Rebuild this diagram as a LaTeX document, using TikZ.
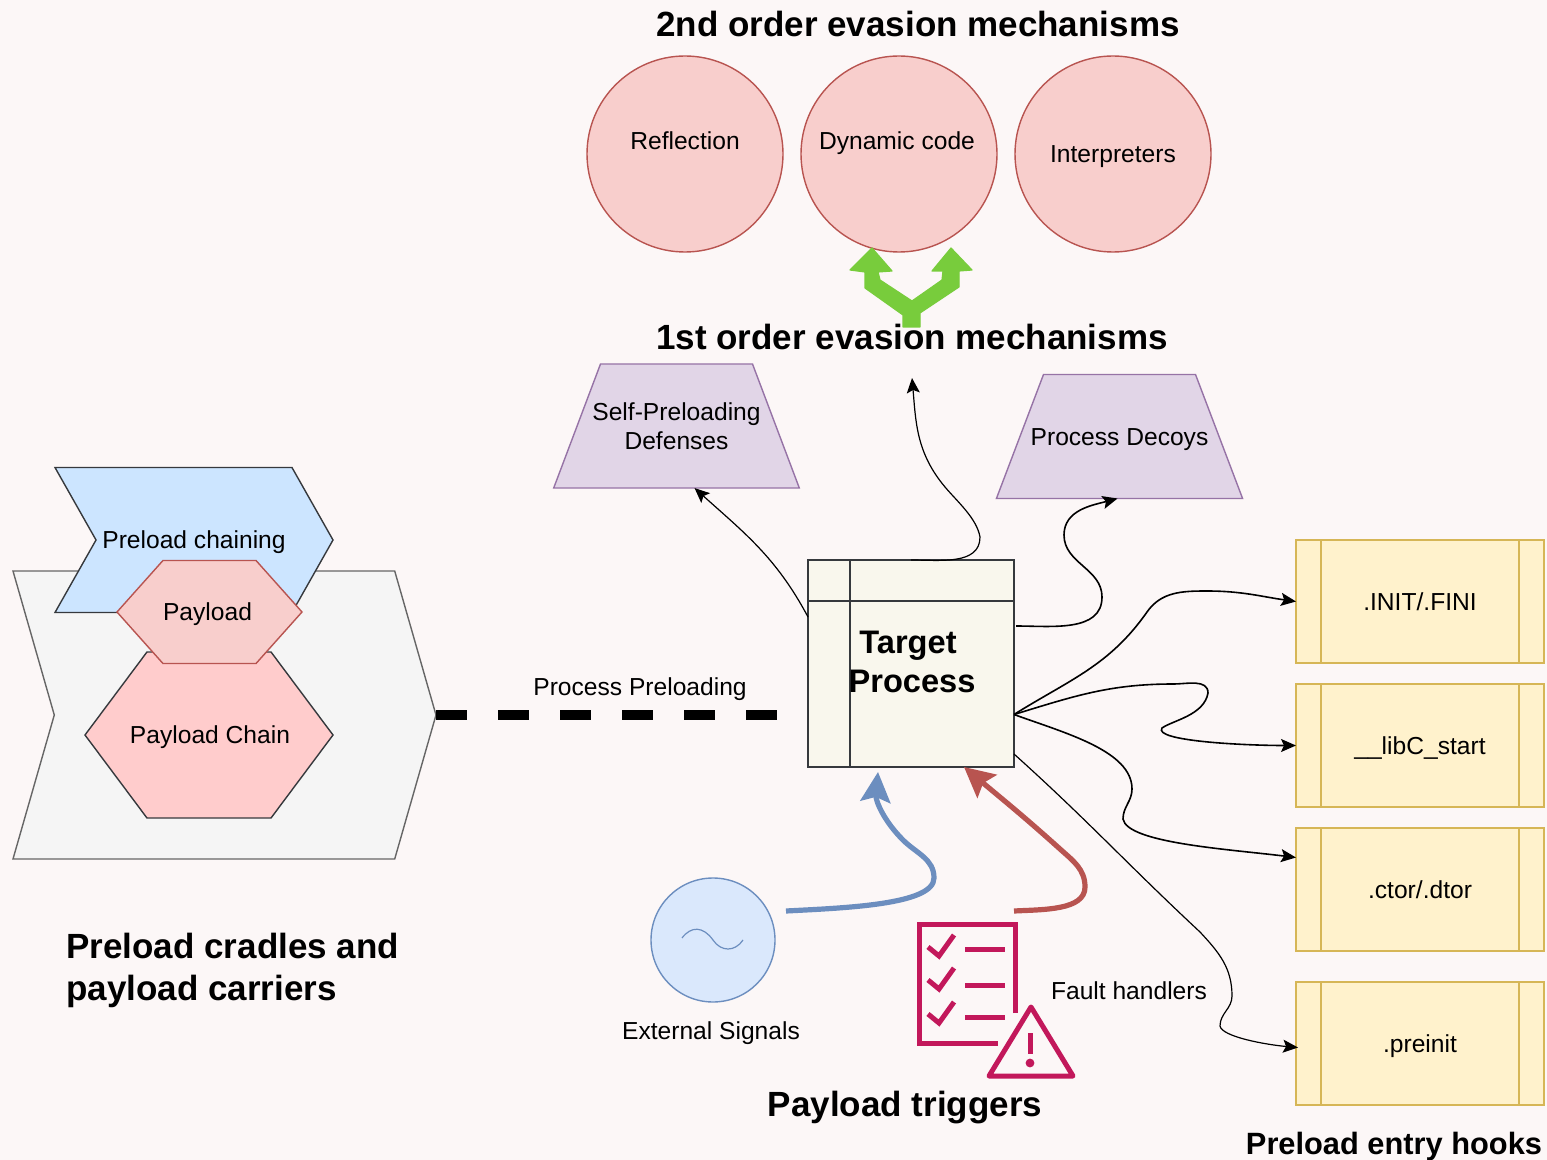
\documentclass[tikz,border=0pt]{standalone}
\usepackage{fontspec}
\setmainfont{Liberation Sans}
\usepackage{tikz}
\usetikzlibrary{calc, shapes, arrows.meta}

\definecolor{paper}{HTML}{FCF7F7}
\definecolor{redfill}{HTML}{F8CECC}
\definecolor{redline}{HTML}{B85450}
\definecolor{mauvefill}{HTML}{E1D5E7}
\definecolor{mauveline}{HTML}{9673A6}
\definecolor{sandfill}{HTML}{FFF2CC}
\definecolor{sandline}{HTML}{D6B656}
\definecolor{bluefill}{HTML}{DAE8FC}
\definecolor{blueline}{HTML}{6C8EBF}
\definecolor{skyfill}{HTML}{CCE5FF}
\definecolor{pinkfill}{HTML}{FFCCCC}
\definecolor{slate}{HTML}{36393D}
\definecolor{greyfill}{HTML}{F5F5F5}
\definecolor{greyline}{HTML}{666666}
\definecolor{creamfill}{HTML}{F9F7ED}
\definecolor{crimson}{HTML}{C2185B}
\definecolor{leaf}{HTML}{78CC3C}

\begin{document}
\begin{tikzpicture}[x=0.5pt, y=-0.5pt, >={Stealth[length=7.5pt, width=6.5pt, inset=1.5pt]}]

    \tikzstyle{lbl}=[font=\fontsize{12.3}{14.6}\selectfont, text=black, inner sep=0pt, text height=8.8pt, text depth=0pt];
    \tikzstyle{heading}=[font=\fontsize{17.5}{21}\selectfont\bfseries, text=black, inner sep=0pt];
    \tikzstyle{bubble}=[circle, draw=redline, fill=redfill, line width=0.7pt, minimum size=98pt, inner sep=0pt, outer sep=0pt];
    \tikzstyle{defense}=[trapezium, trapezium stretches=true, draw=mauveline, fill=mauvefill, line width=0.7pt, minimum height=62pt, inner sep=0pt, outer sep=0pt, lbl, align=center];
    \tikzstyle{hook}=[rectangle, draw=sandline, fill=sandfill, line width=0.7pt, minimum width=124pt, minimum height=61.5pt, inner sep=0pt, outer sep=0pt, lbl];
    \tikzstyle{hookbar}=[draw=sandline, line width=0.7pt];
    \tikzstyle{wire}=[->, thick, black];
    \tikzstyle{trigger}=[line width=2.6pt, >={Stealth[length=15pt, width=15pt, inset=2.5pt]}];
    \tikzstyle{icon}=[draw=crimson, line width=2.5pt];

    \useasboundingbox (0,0) rectangle (1547,1160);
    \fill[paper] (0,0) rectangle (1547,1160);

    % carriers on the left
    \node[signal, signal from=west, signal to=east, signal pointer angle=148, draw=greyline, fill=greyfill, line width=0.7pt, minimum width=211.5pt, minimum height=144pt, inner sep=0pt, outer sep=0pt] (cradle) at (224.5,715) {};
    \node[signal, signal to=west and east, signal pointer angle=106.5, draw=slate, fill=pinkfill, line width=0.7pt, minimum width=124pt, minimum height=83pt, inner sep=0pt, outer sep=0pt, label={[lbl, xshift=0.5pt]center:Payload Chain}] (chain) at (209,735) {};
    \node[signal, signal from=west, signal to=east, signal pointer angle=121, draw=slate, fill=skyfill, line width=0.7pt, minimum width=139pt, minimum height=72.5pt, inner sep=0pt, outer sep=0pt, lbl] (chaining) at (194,540) {Preload chaining};
    \node[signal, signal to=west and east, signal pointer angle=96.5, draw=redline, fill=redfill, line width=0.7pt, minimum width=92.5pt, minimum height=51.5pt, inner sep=0pt, outer sep=0pt, lbl] (payload) at (209.5,612) {Payload\hspace*{2pt}};
    \node[heading, align=left, anchor=north west] (cradles) at (66,933) {Preload cradles and\\payload carriers};

    % 2nd order
    \node[heading] (second) at (918,24) {2nd order evasion mechanisms};
    \node[bubble, label={[lbl, yshift=6.5pt]center:Reflection}] (reflection) at (685,154) {};
    \node[bubble, label={[lbl, yshift=6.5pt, xshift=-1pt]center:Dynamic code}] (dynamic) at ($(reflection)+(214,0)$) {};
    \node[bubble, lbl] (interp) at ($(dynamic)+(214,0)$) {Interpreters};

    \draw[fill=leaf, draw=leaf, line width=0.6pt, line join=round] (903,327) -- (903,315) -- (865,288) -- (865,272) -- (850,270) -- (872,248) -- (892,271) -- (878,272) -- (880,280) -- (912,301) -- (942,280) -- (943,271) -- (932,271) -- (951,248) -- (972,270) -- (959,271) -- (959,287) -- (920,313) -- (920,327) -- cycle;

    % 1st order
    \node[heading] (first) at (912,337) {1st order evasion mechanisms};
    \node[defense, text height=23.4pt, trapezium left angle=45, trapezium right angle=45] (self) at (676.5,426) {\makebox[76pt]{Self-Preloading}\\\makebox[76pt]{Defenses}};
    \node[defense, trapezium left angle=20.5, trapezium right angle=20.5] (decoys) at (1119.5,436.5) {\makebox[76pt]{Process Decoys}};

    % target
    \node[rectangle, draw=slate, fill=creamfill, line width=0.7pt, minimum width=103pt, minimum height=103.5pt, inner sep=0pt, outer sep=0pt] (target) at (911,663.5) {};
    \draw[slate, line width=0.7pt] ($(target.north west)+(0,41)$) -- ($(target.north east)+(0,41)$);
    \draw[slate, line width=0.7pt] ($(target.north west)+(42,0)$) -- ($(target.south west)+(42,0)$);
    \node[align=center, inner sep=0pt, font=\fontsize{16.3}{19.5}\selectfont\bfseries] (targettxt) at (912,662) {Target\hspace*{4pt}\\Process};

    % hooks
    \node[hook] (init) at (1420,601.5) {.INIT/.FINI};
    \node[hook] (libc) at ($(init)+(0,144)$) {\_\_libC\_start};
    \node[hook] (ctor) at ($(libc)+(0,144)$) {.ctor/.dtor};
    \node[hook] (preinit) at ($(ctor)+(0,154)$) {.preinit};
    \draw[hookbar] ($(init.north west)+(25,0)$) -- ($(init.south west)+(25,0)$);
    \draw[hookbar] ($(init.north east)+(-25,0)$) -- ($(init.south east)+(-25,0)$);
    \draw[hookbar] ($(libc.north west)+(25,0)$) -- ($(libc.south west)+(25,0)$);
    \draw[hookbar] ($(libc.north east)+(-25,0)$) -- ($(libc.south east)+(-25,0)$);
    \draw[hookbar] ($(ctor.north west)+(25,0)$) -- ($(ctor.south west)+(25,0)$);
    \draw[hookbar] ($(ctor.north east)+(-25,0)$) -- ($(ctor.south east)+(-25,0)$);
    \draw[hookbar] ($(preinit.north west)+(25,0)$) -- ($(preinit.south west)+(25,0)$);
    \draw[hookbar] ($(preinit.north east)+(-25,0)$) -- ($(preinit.south east)+(-25,0)$);
    \node[font=\fontsize{15.4}{19}\selectfont\bfseries, inner sep=0pt] (hooks) at (1394,1147) {Preload entry hooks};

    % triggers
    \node[circle, draw=blueline, fill=bluefill, line width=0.7pt, minimum size=62pt, inner sep=0pt, outer sep=0pt] (signals) at (713,940) {};
    \draw[blueline, line width=0.6pt] ($(signals)+(-31,-2)$) .. controls ($(signals)+(-22,-14)$) and ($(signals)+(-10,-14)$) .. ($(signals)+(0,0)$) .. controls ($(signals)+(8,12)$) and ($(signals)+(22,12)$) .. ($(signals)+(30,0)$);
    \node[lbl] (signalstxt) at (711,1031) {External Signals};
    \node[lbl] (faulttxt) at (1129,991) {Fault handlers};
    \node[heading] (triggers) at (905,1108) {Payload triggers};

    \draw[icon, line join=miter] (1015,1013) -- (1015,924) -- (919,924) -- (919,1043) -- (998,1043);
    \draw[icon] (928,947) -- (939,956) -- (954,935);
    \draw[icon] (928,980) -- (939,989) -- (954,968);
    \draw[icon] (928,1014) -- (939,1023) -- (954,1002);
    \draw[icon] (965,949) -- (1005,949);
    \draw[icon] (965,985) -- (1005,985);
    \draw[icon] (965,1017) -- (1005,1017);
    \draw[icon, line join=round] (1031,1007) -- (1073,1076) -- (989,1076) -- cycle;
    \draw[icon] (1030,1033) -- (1030,1054);
    \fill[crimson] (1030,1063) circle (2.2pt);

    % connectors
    \coordinate (sigout) at (786,911);
    \coordinate (bluebend) at (934,878);
    \coordinate (bluemid) at (903,840);
    \draw[trigger, blueline, ->] (sigout) to[out=3, in=-90, out looseness=1, in looseness=0.45] (bluebend) to[out=90, in=-45, looseness=1] (bluemid) to[out=135, in=-95] ($(target.south west)+(70,5)$);

    \coordinate (faultout) at (1014,911);
    \coordinate (redbend) at (1085,887);
    \coordinate (redmid) at (1060,849);
    \draw[trigger, redline, ->] (faultout) to[out=3, in=-90, out looseness=1, in looseness=0.8] (redbend) to[out=90, in=-42, looseness=1] (redmid) to[out=138, in=-40] ($(target.south west)+(156,0)$);

    \draw[line width=5pt, dash pattern=on 15.5pt off 15.5pt] (cradle.east) -- (cradle.east -| target.west);
    \node[lbl] (preloading) at (640,687) {Process Preloading};

    \coordinate (upend) at (912,378);
    \coordinate (upbend) at (980,537);
    \coordinate (upmid) at (945,487);
    \draw[wire, semithick] (target.north) to[out=0, in=-90] (upbend) to[out=100, in=-50, looseness=0.8] (upmid) to[out=130, in=-85] (upend);
    \draw[wire, semithick] ($(target.north west)+(0,57)$) to[out=118, in=-42] ($(self.south)+(18,0)$);

    \coordinate (decoyA) at (1102,597);
    \coordinate (decoyB) at (1064,535);
    \draw[wire] ($(target.north east)+(2,66)$) to[out=0, in=-90] (decoyA) to[out=90, in=-90] (decoyB) to[out=90, in=195] ($(decoys.south)+(-2,0)$);

    \coordinate (fan) at ($(target.east)+(0,51)$);
    \coordinate (initA) at (1147,612);
    \coordinate (initB) at (1207,591);
    \draw[wire] (fan) to[out=32, in=-125] (initA) to[out=55, in=180] (initB) to[out=0, in=172] (init.west);

    \coordinate (libcA) at (1173,684);
    \coordinate (libcB) at (1208,693);
    \coordinate (libcC) at (1162,728);
    \draw[wire] (fan) to[out=17, in=180] (libcA) to[out=0, in=90] (libcB) to[out=-100, in=35, in looseness=0.6] (libcC) to[out=-125, in=180, out looseness=0.3] (libc.west);

    \coordinate (ctorA) at (1132,789);
    \coordinate (ctorB) at (1123,819);
    \draw[wire] (fan) to[out=-20, in=90, in looseness=0.7] (ctorA) to[out=-90, in=90] (ctorB) to[out=-80, in=173, out looseness=0.35] ($(ctor.west)+(0,-32)$);

    \coordinate (preM) at (1200,932);
    \coordinate (preA) at (1232,996);
    \coordinate (preB) at (1220,1026);
    \draw[wire, semithick] ($(target.south east)+(0,-13)$) to[out=-42, in=137] (preM) to[out=-47, in=90] (preA) to[out=-90, in=90] (preB) to[out=-80, in=175, out looseness=0.35] ($(preinit.west)+(2,4)$);

\end{tikzpicture}
\end{document}
